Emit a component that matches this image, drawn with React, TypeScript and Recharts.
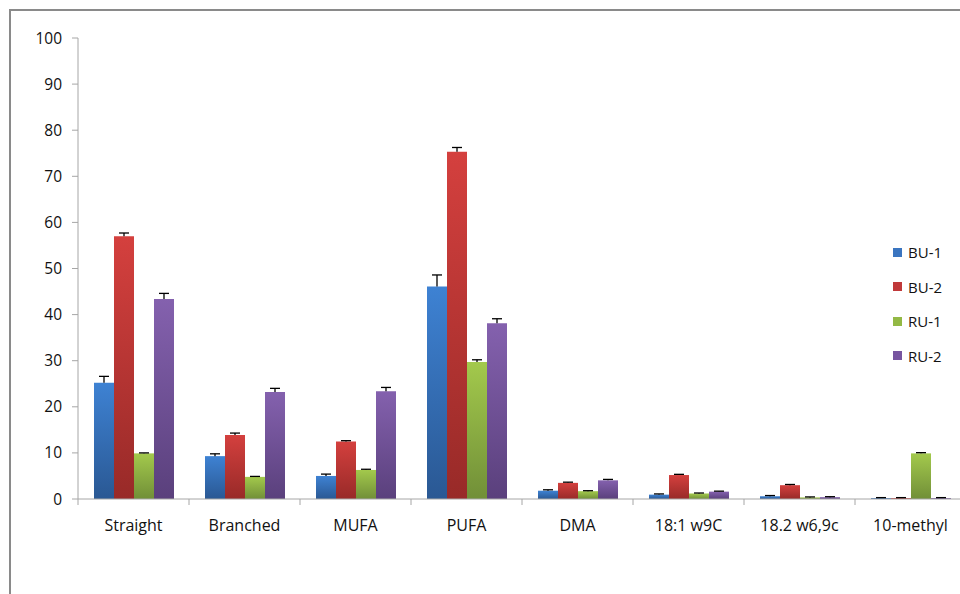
import React from 'react';
import { BarChart, Bar, XAxis, YAxis } from 'recharts';

const categories = ['Straight', 'Branched', 'MUFA', 'PUFA', 'DMA', '18:1 w9C', '18.2 w6,9c', '10-methyl'];

const bu1 = [25.2, 9.3, 5.0, 46.1, 1.8, 0.95, 0.6, 0.2];
const bu2 = [57.0, 13.9, 12.5, 75.3, 3.5, 5.2, 3.0, 0.2];
const ru1 = [9.9, 4.8, 6.3, 29.7, 1.7, 1.2, 0.35, 9.9];
const ru2 = [43.4, 23.2, 23.4, 38.1, 4.05, 1.6, 0.4, 0.2];

const bu1Err = [1.4, 0.5, 0.4, 2.5, 0.2, 0.15, 0.15, 0.1];
const bu2Err = [0.7, 0.4, 0.15, 0.95, 0.15, 0.15, 0.15, 0.1];
const ru1Err = [0.1, 0.1, 0.15, 0.5, 0.1, 0.1, 0.1, 0.15];
const ru2Err = [1.2, 0.8, 0.8, 1.0, 0.2, 0.1, 0.1, 0.1];

const yTicks = [0, 10, 20, 30, 40, 50, 60, 70, 80, 90, 100];

const data = categories.map((name, i) => ({
    name,
    'BU-1': bu1[i],
    'BU-2': bu2[i],
    'RU-1': ru1[i],
    'RU-2': ru2[i],
}));

const series = [
    { key: 'BU-1', errs: bu1Err, top: '#3e82d3', bottom: '#2a5893', swatch: '#3a75c0' },
    { key: 'BU-2', errs: bu2Err, top: '#d4403e', bottom: '#982a28', swatch: '#c0393a' },
    { key: 'RU-1', errs: ru1Err, top: '#a3c94c', bottom: '#718f38', swatch: '#93b945' },
    { key: 'RU-2', errs: ru2Err, top: '#8461ae', bottom: '#5a407c', swatch: '#7755a0' },
];

const FONT = '"Open Sans", "Liberation Sans", sans-serif';

// plus-direction error bar, scaled from the bar's own pixel height
function ErrorCap(props: any) {
    const { x, y, width, height, value, err } = props;
    if (!value || !height) return null;
    const len = (err * Math.abs(height)) / value;
    const cx = x + width / 2;
    const top = y - len;
    return (
        <g stroke="#000" strokeWidth={1.3}>
            <line x1={cx} y1={y} x2={cx} y2={top} />
            <line x1={cx - 5} y1={top} x2={cx + 5} y2={top} />
        </g>
    );
}

// category label in the middle, tick mark on the band boundary
function CategoryTick(props: any) {
    const { x, y, payload, index } = props;
    const half = payload.offset || 0;
    const last = index === categories.length - 1;
    return (
        <g>
            <line x1={x - half} y1={y - 8} x2={x - half} y2={y - 2} stroke="#a6a6a6" />
            {last && <line x1={x + half} y1={y - 8} x2={x + half} y2={y - 2} stroke="#a6a6a6" />}
            <text x={x} y={y + 24} textAnchor="middle" fontSize={16} fill="#111" fontFamily={FONT}>
                {payload.value}
            </text>
        </g>
    );
}

function SideLegend() {
    return (
        <div style={{ position: 'absolute', left: 893, top: 235, fontFamily: FONT, fontSize: 15, color: '#111' }}>
            {series.map((s) => (
                <div key={s.key} style={{ display: 'flex', alignItems: 'center', height: 34.5 }}>
                    <span style={{ width: 9, height: 9, background: s.swatch, marginRight: 6 }} />
                    {s.key}
                </div>
            ))}
        </div>
    );
}

export default function App() {
    return (
        <div style={{ position: 'fixed', left: 0, top: 0, width: 960, height: 594, overflow: 'hidden', background: '#fff' }}>
            <div
                style={{
                    position: 'absolute', left: 9, top: 9, width: 1000, height: 700,
                    borderLeft: '2px solid #8a8a8a', borderTop: '2px solid #8a8a8a',
                }}
            />
            <BarChart
                width={968}
                height={594}
                data={data}
                margin={{ top: 38, right: 2, bottom: 65, left: 0 }}
                barCategoryGap={16}
                barGap={0}
                style={{ position: 'absolute', left: 0, top: 0 }}
            >
                <defs>
                    {series.map((s) => (
                        <linearGradient key={s.key} id={`g-${s.key}`} x1="0" y1="0" x2="0" y2="1">
                            <stop offset="0%" stopColor={s.top} />
                            <stop offset="100%" stopColor={s.bottom} />
                        </linearGradient>
                    ))}
                </defs>
                <XAxis
                    dataKey="name"
                    height={30}
                    axisLine={{ stroke: '#a6a6a6' }}
                    tickLine={false}
                    tick={<CategoryTick />}
                    interval={0}
                />
                <YAxis
                    width={78}
                    domain={[0, 100]}
                    ticks={yTicks}
                    interval={0}
                    axisLine={{ stroke: '#a6a6a6' }}
                    tickLine={{ stroke: '#a6a6a6' }}
                    tickSize={6}
                    tickMargin={10}
                    tick={{ fontSize: 15.5, fill: '#111', fontFamily: FONT }}
                />
                {series.map((s) => (
                    <Bar
                        key={s.key}
                        dataKey={s.key}
                        fill={`url(#g-${s.key})`}
                        isAnimationActive={false}
                        label={(p: any) => <ErrorCap {...p} err={s.errs[p.index]} />}
                    />
                ))}
            </BarChart>
            <SideLegend />
        </div>
    );
}
